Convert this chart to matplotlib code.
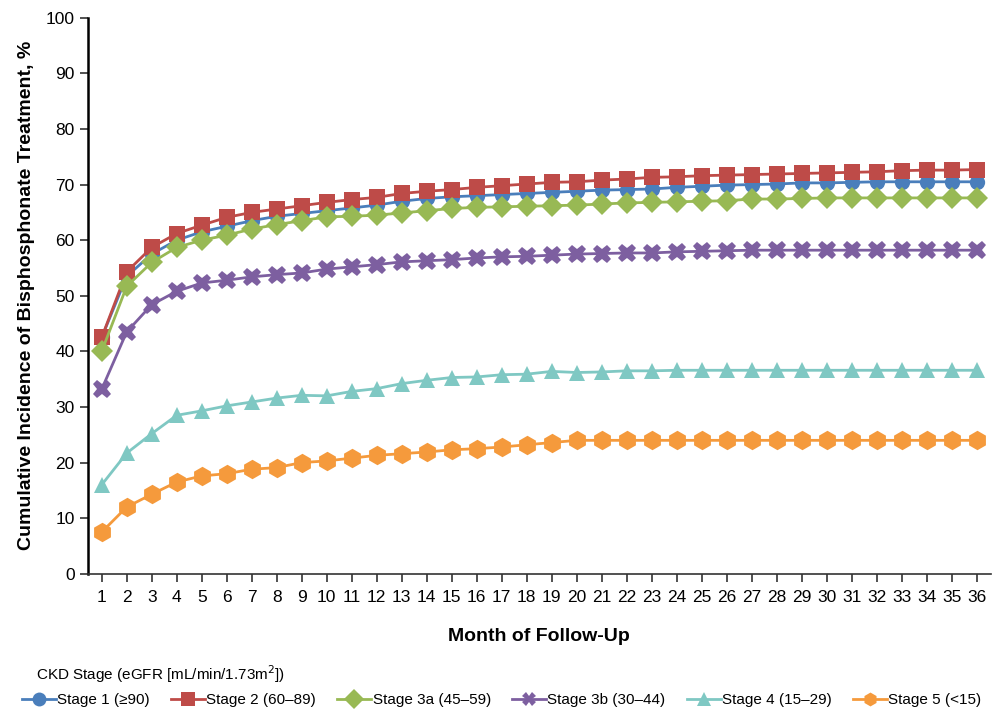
import matplotlib.pyplot as plt
from matplotlib.lines import Line2D

months = list(range(1, 37))

stage1 = [42.5, 53.5, 57.5, 60.0, 61.5, 62.5, 63.5, 64.3, 64.8, 65.3, 65.8, 66.3,
          67.0, 67.5, 67.8, 68.0, 68.2, 68.4, 68.6, 68.8, 69.0, 69.1, 69.2, 69.5,
          69.7, 69.9, 70.0, 70.1, 70.3, 70.3, 70.4, 70.5, 70.5, 70.5, 70.5, 70.5]
stage2 = [42.5, 54.3, 58.7, 61.2, 62.7, 64.1, 65.0, 65.6, 66.2, 66.8, 67.3, 67.7,
          68.4, 68.8, 69.1, 69.5, 69.8, 70.1, 70.4, 70.5, 70.8, 71.0, 71.3, 71.4,
          71.6, 71.7, 71.8, 71.9, 72.0, 72.1, 72.2, 72.3, 72.5, 72.6, 72.6, 72.7]
stage3a = [40.0, 51.7, 56.0, 58.7, 60.0, 60.9, 62.0, 62.8, 63.5, 64.2, 64.3, 64.5,
           64.9, 65.3, 65.7, 65.9, 66.0, 66.1, 66.2, 66.3, 66.5, 66.7, 66.8, 66.9,
           67.0, 67.1, 67.4, 67.4, 67.5, 67.6, 67.6, 67.6, 67.6, 67.6, 67.6, 67.6]
stage3b = [33.2, 43.5, 48.4, 50.8, 52.3, 52.8, 53.4, 53.8, 54.1, 54.8, 55.2, 55.6,
           56.1, 56.3, 56.5, 56.8, 57.0, 57.1, 57.3, 57.5, 57.6, 57.7, 57.7, 57.9,
           58.0, 58.1, 58.2, 58.2, 58.2, 58.2, 58.2, 58.2, 58.2, 58.2, 58.2, 58.2]
stage4 = [16.0, 21.7, 25.2, 28.5, 29.3, 30.2, 30.9, 31.6, 32.1, 32.0, 32.8, 33.3,
          34.2, 34.8, 35.3, 35.4, 35.8, 35.9, 36.4, 36.2, 36.3, 36.5, 36.5, 36.6,
          36.6, 36.6, 36.6, 36.6, 36.6, 36.6, 36.6, 36.6, 36.6, 36.6, 36.6, 36.6]
stage5 = [7.5, 12.0, 14.3, 16.5, 17.6, 18.0, 18.8, 19.1, 20.0, 20.3, 20.8, 21.3,
          21.6, 21.9, 22.3, 22.5, 22.8, 23.2, 23.6, 24.0, 24.0, 24.0, 24.0, 24.0,
          24.0, 24.0, 24.0, 24.0, 24.0, 24.0, 24.0, 24.0, 24.0, 24.0, 24.0, 24.0]

labels = ['Stage 1 (≥90)', 'Stage 2 (60–89)', 'Stage 3a (45–59)',
          'Stage 3b (30–44)', 'Stage 4 (15–29)', 'Stage 5 (<15)']
colors = ['#4a7ebb', '#be4b48', '#98b954', '#7d5fa0', '#7fc8c3', '#f59a3c']
markers = ['o', 's', 'D', 'X', '^', 'h']
sizes = [11, 11, 11, 13, 12, 14]

plt.rcParams['font.family'] = ['Liberation Sans', 'DejaVu Sans']

fig = plt.figure(figsize=(10.03, 7.11), dpi=100)
ax = fig.add_axes([0.0877, 0.193, 0.9, 0.782])

series = [stage1, stage2, stage3a, stage3b, stage4, stage5]
for vals, lab, c, m, s in zip(series, labels, colors, markers, sizes):
    ax.plot(months, vals, color=c, marker=m, markersize=s, linewidth=2,
            label=lab, markeredgewidth=0)

ax.set_xlim(0.45, 36.56)
ax.set_ylim(0, 100)
ax.set_xticks(months)
ax.set_yticks(range(0, 101, 10))
ax.tick_params(axis='both', labelsize=12.5, direction='out', length=6, width=1.2, color='#333333')
ax.tick_params(axis='x', pad=6)
for side in ['top', 'right']:
    ax.spines[side].set_visible(False)
ax.spines['left'].set_linewidth(1.8)
ax.spines['bottom'].set_linewidth(1.2)
ax.spines['bottom'].set_color('#333333')

ax.set_xlabel('Month of Follow-Up', fontsize=14, fontweight='bold', labelpad=16)
ax.set_ylabel('Cumulative Incidence of Bisphosphonate Treatment, %', fontsize=14,
              fontweight='bold', labelpad=8)

fig.text(0.036, 1 - 674 / 711, 'CKD Stage (eGFR [mL/min/1.73m$^2$])', fontsize=11,
         va='center')

handles = [Line2D([], [], color=c, marker=m, markersize=10, linewidth=2, markeredgewidth=0)
           for c, m in zip(colors, markers)]
fig.legend(handles, labels, loc='center left', bbox_to_anchor=(0.022, 1 - 700 / 711), ncol=6,
           frameon=False, fontsize=11, handlelength=2.2, handletextpad=0.1,
           columnspacing=1.4, borderaxespad=0, borderpad=0)

fig.savefig('out.png', dpi=100)
